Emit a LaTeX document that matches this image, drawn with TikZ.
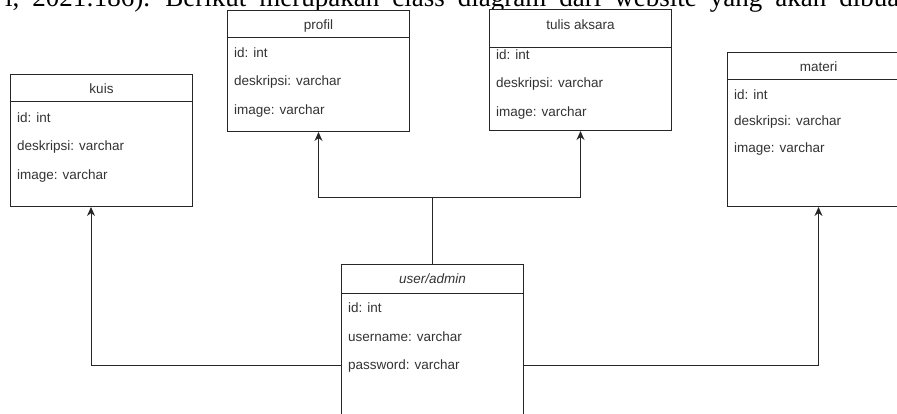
\documentclass[tikz,border=0pt]{standalone}
\usepackage{fontspec}
\setmainfont{Liberation Serif}
\setsansfont{Liberation Sans}
\usetikzlibrary{arrows.meta,calc}
\definecolor{linegray}{HTML}{262626}
\definecolor{txtgray}{HTML}{333333}
\tikzset{cls/.style={draw=linegray, fill=white, line width=1pt, minimum width=182pt, anchor=north west, inner sep=0pt},
  ttl/.style={font=\sffamily\fontsize{13.5}{16}\selectfont, text=txtgray, inner sep=0pt},
  attr/.style={ttl, anchor=west},
  link/.style={draw=linegray, line width=1pt},
  arr/.style={link, -{Stealth[length=9pt,width=8pt]}}}

\begin{document}
\begin{tikzpicture}[x=1pt,y=-1pt]
  \useasboundingbox (0,0) rectangle (897,414);
  \clip (0,0) rectangle (897,414);
  % caption of the page, cut at the top
  \node[anchor=base west, font=\fontsize{27}{31}\selectfont, inner sep=0pt] (cap) at (5,7)
    {\spaceskip=13pt i, 2021:186). Berikut merupakan class diagram dari website yang akan dibuat};
  % kuis
  \node[cls, minimum height=132pt] (kuis) at (10,74) {};
  \draw[link] ($(kuis.north west)+(0,28)$) -- ($(kuis.north east)+(0,28)$);
  \node[ttl] (kuis-t) at ($(kuis.north)+(0,15)$) {kuis};
  \foreach \txt [count=\i] in {id: int, deskripsi: varchar, image: varchar}
    \node[attr] (kuis-\i) at ($(kuis.north west)+(7,15+29*\i)$) {\txt};
  % profil
  \node[cls, minimum height=121pt] (profil) at (227,10) {};
  \draw[link] ($(profil.north west)+(0,28)$) -- ($(profil.north east)+(0,28)$);
  \node[ttl] (profil-t) at ($(profil.north)+(0,16)$) {profil};
  \foreach \txt [count=\i] in {id: int, deskripsi: varchar, image: varchar}
    \node[attr] (profil-\i) at ($(profil.north west)+(7,14+29*\i)$) {\txt};
  % tulis aksara
  \node[cls, minimum height=121pt] (tulis) at (489,9) {};
  \draw[link] ($(tulis.north west)+(0,39)$) -- ($(tulis.north east)+(0,39)$);
  \node[ttl] (tulis-t) at ($(tulis.north)+(0,16)$) {tulis aksara};
  \foreach \txt [count=\i] in {id: int, deskripsi: varchar, image: varchar}
    \node[attr] (tulis-\i) at ($(tulis.north west)+(7,17+29*\i)$) {\txt};
  % materi
  \node[cls, minimum height=154pt] (materi) at (727,52) {};
  \draw[link] ($(materi.north west)+(0,28)$) -- ($(materi.north east)+(0,28)$);
  \node[ttl] (materi-t) at ($(materi.north)+(0,15)$) {materi};
  \foreach \txt [count=\i] in {id: int, deskripsi: varchar, image: varchar}
    \node[attr] (materi-\i) at ($(materi.north west)+(7,16+27*\i)$) {\txt};
  % user/admin
  \node[cls, minimum height=200pt] (user) at (341,264) {};
  \draw[link] ($(user.north west)+(0,29)$) -- ($(user.north east)+(0,29)$);
  \node[ttl] (user-t) at ($(user.north)+(0,15)$) {\itshape user/admin};
  \foreach \txt [count=\i] in {id: int, username: varchar, password: varchar}
    \node[attr] (user-\i) at ($(user.north west)+(7,15+29*\i)$) {\txt};
  % links
  \coordinate (fork) at ($(user.north)+(0,-66)$);
  \coordinate (user-l) at ($(user.north west)+(0,101)$);
  \coordinate (user-r) at ($(user.north east)+(0,101)$);
  \coordinate (kuis-in) at ($(kuis.south west)+(81,0)$);
  \draw[link] (user.north) -- (fork);
  \draw[arr] (fork) -| (profil.south);
  \draw[arr] (fork) -| (tulis.south);
  \draw[arr] (user-l) -| (kuis-in);
  \draw[arr] (user-r) -| (materi.south);
\end{tikzpicture}
\end{document}
